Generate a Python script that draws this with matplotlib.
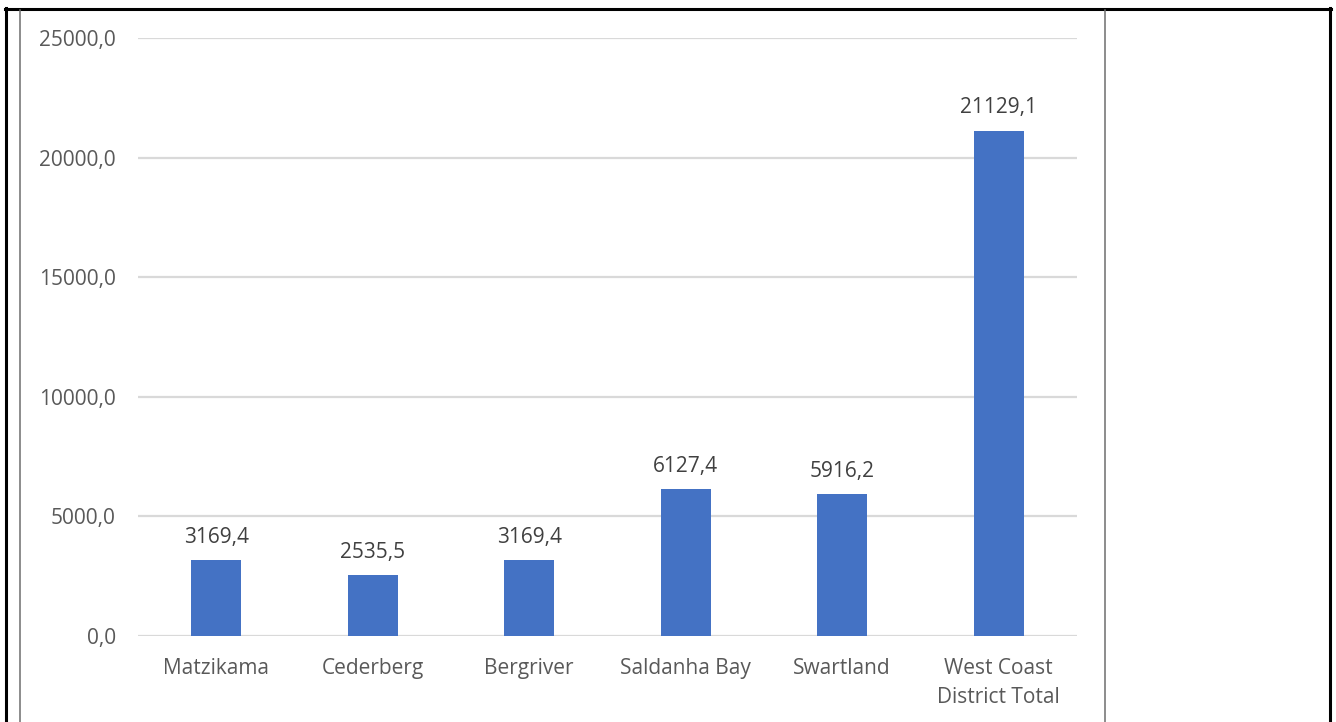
import matplotlib
matplotlib.use("Agg")
import matplotlib.pyplot as plt
from matplotlib.lines import Line2D

categories = ["Matzikama", "Cederberg", "Bergriver", "Saldanha Bay", "Swartland",
              "West Coast\nDistrict Total"]
values = [3169.4, 2535.5, 3169.4, 6127.4, 5916.2, 21129.1]
y_ticks = [0, 5000, 10000, 15000, 20000, 25000]

plt.rcParams["font.family"] = ["Open Sans", "DejaVu Sans"]

W, H = 1336, 722
fig = plt.figure(figsize=(W / 100, H / 100), dpi=100)
fig.patch.set_facecolor("white")

ax = fig.add_axes([138 / W, 1 - 636 / H, (1077 - 138) / W, (636 - 38) / H])

x = list(range(len(categories)))
bars = ax.bar(x, values, width=0.32, color="#4472C4", zorder=3)

ax.set_xlim(-0.5, len(categories) - 0.5)
ax.set_ylim(0, 25000)
ax.set_yticks(y_ticks)
ax.set_yticklabels([f"{v:.1f}".replace(".", ",") for v in y_ticks])
ax.set_xticks(x)
ax.set_xticklabels(categories, linespacing=1.55)

ax.grid(axis="y", color="#D9D9D9", linewidth=1.6, zorder=0)
for s in ax.spines.values():
    s.set_visible(False)
ax.tick_params(axis="both", length=0, labelsize=15, colors="#595959")
ax.tick_params(axis="y", pad=16)
ax.tick_params(axis="x", pad=15.5)

for rect, v in zip(bars, values):
    ax.annotate(f"{v:.1f}".replace(".", ","),
                xy=(rect.get_x() + rect.get_width() / 2, v),
                xytext=(0, 9), textcoords="offset points",
                ha="center", va="bottom", fontsize=15, color="#404040")

# table cell borders around the chart
def vline(xp, y0, y1, color, lw):
    fig.add_artist(Line2D([xp / W, xp / W], [1 - y0 / H, 1 - y1 / H],
                          transform=fig.transFigure, color=color, linewidth=lw))

def hline(yp, x0, x1, color, lw):
    fig.add_artist(Line2D([x0 / W, x1 / W], [1 - yp / H, 1 - yp / H],
                          transform=fig.transFigure, color=color, linewidth=lw))

hline(9, 5, 1331, "black", 2.2)
vline(6, 8, 722, "black", 2.2)
vline(1329.5, 8, 722, "black", 2.2)
vline(19.5, 10, 722, "#6E6E6E", 1.1)
vline(1105, 10, 722, "#6E6E6E", 1.1)

fig.savefig("out.png", dpi=100, facecolor="white")
